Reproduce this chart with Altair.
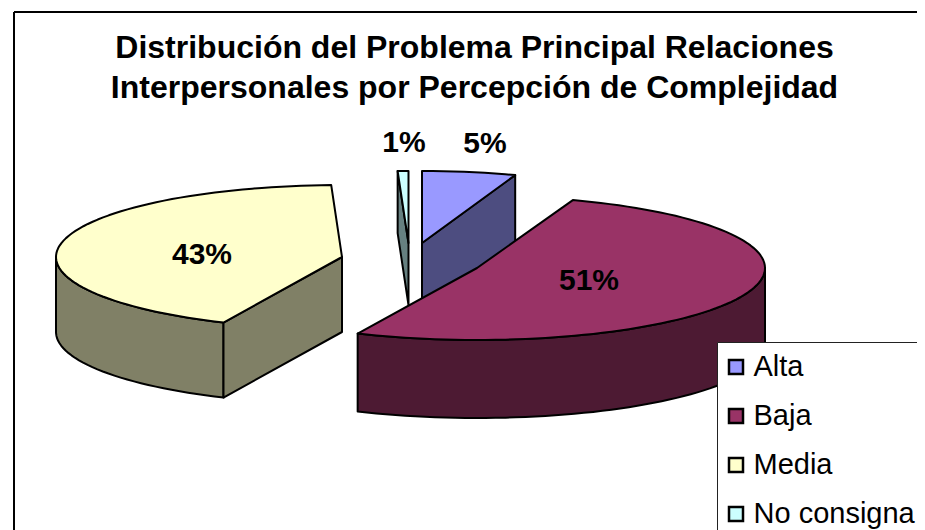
import math
import altair as alt
import pandas as pd

TITLE = ["Distribución del Problema Principal Relaciones",
         "Interpersonales por Percepción de Complejidad"]
CATEGORIES = ["Alta", "Baja", "Media", "No consigna"]
SHARES = [5.4, 51.4, 42.6, 0.6]
TOP_COLORS = ["#9999FF", "#993366", "#FFFFCC", "#CCFFFF"]
SIDE_COLORS = ["#4D4D80", "#4D1A33", "#808066", "#668080"]

# layout of the exploded pseudo-3D pie, in page pixels
CENTER_X = {"Alta": 422, "Baja": 477, "Media": 342, "No consigna": 408.5}
CENTER_Y = {"Alta": 243, "Baja": 268, "Media": 257, "No consigna": 243}
RADIUS_X = {"Alta": 280, "Baja": 288, "Media": 286, "No consigna": 288}
RADIUS_Y = 72
DEPTH = {"Alta": 72, "Baja": 78, "Media": 75, "No consigna": 62}
LABEL_X = {"Alta": 485, "Baja": 589, "Media": 202, "No consigna": 404}
LABEL_Y = {"Alta": 144, "Baja": 281, "Media": 255, "No consigna": 143}
PAINT_ORDER = ["Media", "No consigna", "Alta", "Baja"]


def rim(cat, a, depth=0):
    t = math.radians(a)
    return (CENTER_X[cat] + RADIUS_X[cat] * math.sin(t),
            CENTER_Y[cat] - RADIUS_Y * math.cos(t) + depth)


spans, start = {}, 0.0
for cat, share in zip(CATEGORIES, SHARES):
    spans[cat] = (start, start + share * 3.6)
    start += share * 3.6

tops, sides = [], []


def add(rows, face, cat, pts):
    for i, (x, y) in enumerate(pts):
        rows.append({"face": face, "Categoria": cat, "x": x, "y": y, "i": i})


for cat in PAINT_ORDER:
    a0, a1 = spans[cat]
    d = DEPTH[cat]
    n = max(2, int((a1 - a0) / 2))
    angles = [a0 + (a1 - a0) * k / n for k in range(n + 1)]
    c = (CENTER_X[cat], CENTER_Y[cat])
    cd = (c[0], c[1] + d)
    # outer wall: only the part of the rim facing the viewer (90..270 degrees)
    front = [a for a in angles if 90 <= a <= 270]
    if front:
        if a0 < 90 < a1:
            front = [90] + front
        if a0 < 270 < a1:
            front = front + [270]
        pts = [rim(cat, a) for a in front] + [rim(cat, a, d) for a in reversed(front)]
        add(sides, cat + " pared", cat, pts)
    # cut faces looking towards the right of the picture
    if cat in ("Media", "No consigna"):
        p = rim(cat, a0)
        add(sides, cat + " corte", cat, [p, c, cd, (p[0], p[1] + d)])
    if cat == "Alta":
        p = rim(cat, a1)
        add(sides, cat + " corte", cat, [c, p, (p[0], p[1] + d), cd])
    add(tops, cat + " tapa", cat, [c] + [rim(cat, a) for a in angles])

labels = pd.DataFrame({
    "x": [LABEL_X[c] for c in CATEGORIES],
    "y": [LABEL_Y[c] for c in CATEGORIES],
    "t": [f"{round(s)}%" for s in SHARES],
})

X = alt.X("x:Q", axis=None, scale=alt.Scale(domain=[8, 917], range=[0, 909], nice=False, zero=False))
Y = alt.Y("y:Q", axis=None, scale=alt.Scale(domain=[530, 8], range=[522, 0], nice=False, zero=False))

frame_top = alt.Chart(pd.DataFrame({"x": [14, 1100], "y": [12, 12]})).mark_line(
    stroke="black", strokeWidth=2
).encode(x=X, y=Y)
frame_left = alt.Chart(pd.DataFrame({"x": [14, 14], "y": [12, 800]})).mark_line(
    stroke="black", strokeWidth=2
).encode(x=X, y=Y)

side_layer = alt.Chart(pd.DataFrame(sides)).mark_line(
    stroke="black", strokeWidth=2, interpolate="linear-closed", strokeJoin="round"
).encode(
    x=X, y=Y, order="i:Q", detail="face:N",
    fill=alt.Fill("Categoria:N", legend=None,
                  scale=alt.Scale(domain=CATEGORIES, range=SIDE_COLORS)),
)

top_layer = alt.Chart(pd.DataFrame(tops)).mark_line(
    stroke="black", strokeWidth=2, interpolate="linear-closed", strokeJoin="round"
).encode(
    x=X, y=Y, order="i:Q", detail="face:N",
    fill=alt.Fill("Categoria:N", sort=CATEGORIES,
                  scale=alt.Scale(domain=CATEGORIES, range=TOP_COLORS),
                  legend=alt.Legend(
                      title=None, orient="none", legendX=709, legendY=334,
                      fillColor="white", strokeColor="#222222", padding=10.5,
                      symbolType="square", symbolSize=196, symbolStrokeColor="black",
                      symbolStrokeWidth=2.5, symbolOpacity=1, symbolOffset=-6,
                      labelFont="Liberation Sans", labelFontSize=29, labelColor="black",
                      labelLimit=400, rowPadding=19, labelOffset=3,
                      columnPadding=0,
                  )),
)

text_layer = alt.Chart(labels).mark_text(
    font="Liberation Sans", fontWeight="bold", fontSize=30, color="black",
    align="center", baseline="middle",
).encode(x=X, y=Y, text="t:N")

chart = alt.layer(frame_top, frame_left, side_layer, top_layer, text_layer).resolve_scale(
    fill="independent"
).properties(
    width=909, height=522,
    autosize=alt.AutoSizeParams(type="none"),
    padding=0,
    background="white",
    title=alt.TitleParams(
        text=TITLE, font="Liberation Sans", fontWeight="bold", fontSize=32,
        lineHeight=40, color="black", anchor="middle", frame="group",
        offset=-97, dx=12,
    ),
).configure_view(stroke=None)

chart.save("out.html", embed_options={"renderer": "svg", "actions": False})
